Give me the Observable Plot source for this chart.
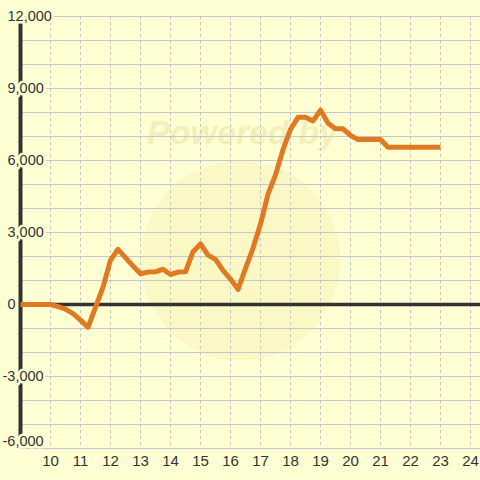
<!DOCTYPE html>
<html>
<head>
<meta charset="utf-8">
<script src="https://cdn.jsdelivr.net/npm/d3@7"></script>
<script src="https://cdn.jsdelivr.net/npm/@observablehq/plot@0.6"></script>
<style>
  html, body { margin: 0; padding: 0; background: #ffffd4; }
  #chart { width: 480px; height: 480px; }
</style>
</head>
<body>
<div id="chart"></div>
<script>
// Data
const hours = [9, 9.25, 9.5, 9.75, 10, 10.25, 10.5, 10.75, 11, 11.25, 11.5, 11.75,
  12, 12.25, 12.5, 12.75, 13, 13.25, 13.5, 13.75, 14, 14.25, 14.5, 14.75,
  15, 15.25, 15.5, 15.75, 16, 16.25, 16.5, 16.75, 17, 17.25, 17.5, 17.75,
  18, 18.25, 18.5, 18.75, 19, 19.25, 19.5, 19.75, 20, 20.25, 20.5, 20.75,
  21, 21.25, 21.5, 21.75, 22, 22.25, 22.5, 22.75, 23];
const values = [0, 0, 0, 0, 0, -90, -190, -380, -650, -950, -120, 720,
  1850, 2300, 1950, 1600, 1280, 1350, 1360, 1470, 1250, 1350, 1360, 2200,
  2520, 2060, 1880, 1420, 1060, 630, 1500, 2350, 3350, 4600, 5400, 6450,
  7300, 7800, 7800, 7650, 8100, 7550, 7320, 7320, 7050, 6870, 6870, 6870,
  6870, 6550, 6550, 6550, 6550, 6550, 6550, 6550, 6550];

const xTicks = [10, 11, 12, 13, 14, 15, 16, 17, 18, 19, 20, 21, 22, 23, 24];
const yGrid = [-6000, -5000, -4000, -3000, -2000, -1000, 0, 1000, 2000, 3000,
  4000, 5000, 6000, 7000, 8000, 9000, 10000, 11000, 12000];
const yTicksPos = [12000, 9000, 6000, 3000, 0];
const yLabelsPos = ["12,000", "9,000", "6,000", "3,000", "0"];
const yTicksNeg = [-3000];
const yLabelsNeg = ["-3,000"];
const yTicksBottom = [-6000];
const yLabelsBottom = ["-6,000"];

const data = hours.map((h, i) => ({hour: h, value: values[i]}));
const bg = "#ffffd4";
const ink = "#333333";

const labelOpts = (labels, dx, dy) => ({
  y: d => d,
  text: (d, i) => labels[i],
  frameAnchor: "left",
  textAnchor: "start",
  dx, dy,
  fontSize: 14.5,
  fill: ink,
  stroke: bg,
  strokeWidth: 5,
  paintOrder: "stroke"
});

const chart = Plot.plot({
  width: 480,
  height: 480,
  marginLeft: 20,
  marginRight: 0,
  marginTop: 16,
  marginBottom: 32,
  x: {domain: [9, 24.3333], axis: null, label: null},
  y: {domain: [-6000, 12000], axis: null, label: null},
  style: {background: bg, fontFamily: "'Liberation Sans', Arial, sans-serif", color: ink},
  marks: [
    // faint watermark
    Plot.dot([0], {frameAnchor: "middle", dx: -10, dy: 28, r: 100, fill: "#f6e8a4", fillOpacity: 0.3, stroke: "none"}),
    Plot.text(["Powered by"], {frameAnchor: "middle", dx: -8, dy: -99, fontSize: 34, fontWeight: "bold", fontStyle: "italic", fill: "#f2ebb2", fillOpacity: 0.8}),
    // grid
    Plot.ruleY(yGrid, {stroke: "#c6c6cf", strokeWidth: 1}),
    Plot.ruleX(xTicks, {stroke: "#c2c2c2", strokeWidth: 1, strokeDasharray: "3,3"}),
    // axis lines
    Plot.ruleX([9], {stroke: ink, strokeWidth: 4}),
    Plot.ruleY([0], {stroke: ink, strokeWidth: 3.5}),
    // series
    Plot.line(data, {x: "hour", y: "value", stroke: "#e07a22", strokeWidth: 5, strokeLinejoin: "round", strokeLinecap: "butt"}),
    // y labels
    Plot.text(yTicksPos, labelOpts(yLabelsPos, -13, 0)),
    Plot.text(yTicksNeg, labelOpts(yLabelsNeg, -18, 0)),
    Plot.text(yTicksBottom, labelOpts(yLabelsBottom, -18, -7)),
    // x axis labels
    Plot.axisX(xTicks, {tickSize: 0, tickPadding: 7, fontSize: 15, fill: ink, label: null, tickFormat: d => String(d)})
  ]
});

document.getElementById("chart").appendChild(chart);
</script>
</body>
</html>
